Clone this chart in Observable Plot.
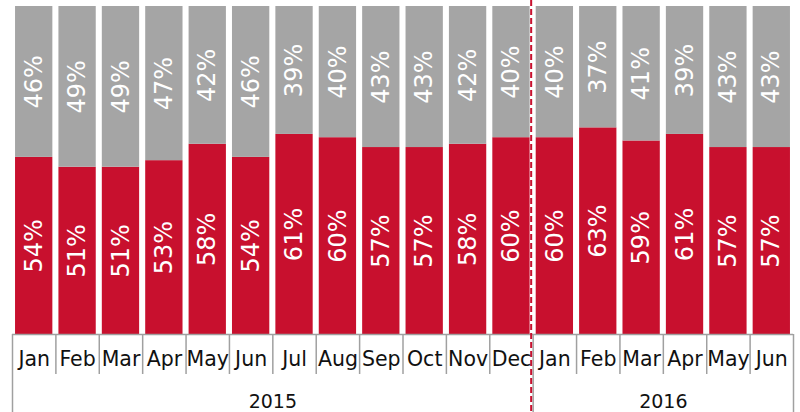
<!DOCTYPE html>
<html>
<head>
<meta charset="utf-8">
<script src="https://cdn.jsdelivr.net/npm/d3@7"></script>
<script src="https://cdn.jsdelivr.net/npm/@observablehq/plot@0.6"></script>
<style>
  html, body { margin: 0; padding: 0; background: #fff; }
  #chart { width: 800px; height: 412px; }
</style>
</head>
<body>
<div id="chart"></div>
<script>
const months = ["Jan","Feb","Mar","Apr","May","Jun","Jul","Aug","Sep","Oct","Nov","Dec","Jan","Feb","Mar","Apr","May","Jun"];
const years = ["2015","2015","2015","2015","2015","2015","2015","2015","2015","2015","2015","2015","2016","2016","2016","2016","2016","2016"];
const redValues = [54,51,51,53,58,54,61,60,57,57,58,60,60,63,59,61,57,57];
const grayValues = [46,49,49,47,42,46,39,40,43,43,42,40,40,37,41,39,43,43];
const yearLabels = ["2015","2016"];

const RED = "#c8102e";
const GRAY = "#a5a5a5";
const LINE = "#a0a0a0";

// table built from arrays
const rows = [];
months.forEach((m, i) => {
  rows.push({i, month: m, year: years[i], series: "red", value: redValues[i], y1: 0, y2: redValues[i]});
  rows.push({i, month: m, year: years[i], series: "gray", value: grayValues[i], y1: redValues[i], y2: redValues[i] + grayValues[i]});
});
const idx = months.map((m, i) => i);
// month-cell boundaries (inside a year) and year boundaries
const monthBounds = idx.slice(1).filter(i => years[i] === years[i - 1]);
const yearBounds = [0, ...idx.slice(1).filter(i => years[i] !== years[i - 1]), months.length];
const yearBreaks = idx.slice(1).filter(i => years[i] !== years[i - 1]);
const yearCenters = yearLabels.map(y => {
  const ii = idx.filter(i => years[i] === y);
  return {year: y, c: (ii[0] + ii[ii.length - 1] + 1) / 2};
});

const plot = Plot.plot({
  width: 800,
  height: 412,
  marginTop: 6,
  marginBottom: 78,
  marginLeft: 12,
  marginRight: 7,
  x: {type: "linear", domain: [0, months.length], axis: null},
  y: {domain: [0, 100], axis: null},
  style: {fontFamily: "'DejaVu Sans', Verdana, sans-serif", background: "#fff"},
  marks: [
    Plot.rectY(rows, {
      x1: d => d.i + 0.07,
      x2: d => d.i + 0.93,
      y1: "y1",
      y2: "y2",
      fill: d => d.series === "red" ? RED : GRAY
    }),
    Plot.text(rows, {
      x: d => d.i + 0.5,
      y: d => (d.y1 + d.y2) / 2,
      text: d => d.value + "%",
      rotate: -90,
      fill: "white",
      fontSize: 24
    }),
    // axis baseline
    Plot.ruleY([0], {stroke: LINE, strokeWidth: 1.5}),
    // month separators
    Plot.ruleX(monthBounds, {x: d => d, stroke: LINE, strokeWidth: 1.5, insetTop: 328, insetBottom: -40}),
    // year separators / outer borders
    Plot.ruleX(yearBounds, {x: d => d, stroke: LINE, strokeWidth: 1.5, insetTop: 328, insetBottom: -78}),
    // dashed red year divider
    Plot.ruleX(yearBreaks, {x: d => d, dx: -2, stroke: RED, strokeWidth: 2, strokeDasharray: "6,3", insetTop: -6, insetBottom: -78}),
    // month labels
    Plot.text(idx, {x: i => i + 0.5, y: () => 0, dy: 25, text: i => months[i], fill: "#111", fontSize: 20.5}),
    // year labels
    Plot.text(yearCenters, {x: "c", y: () => 0, dy: 67, text: "year", fill: "#111", fontSize: 19})
  ]
});
document.getElementById("chart").appendChild(plot);
</script>
</body>
</html>
